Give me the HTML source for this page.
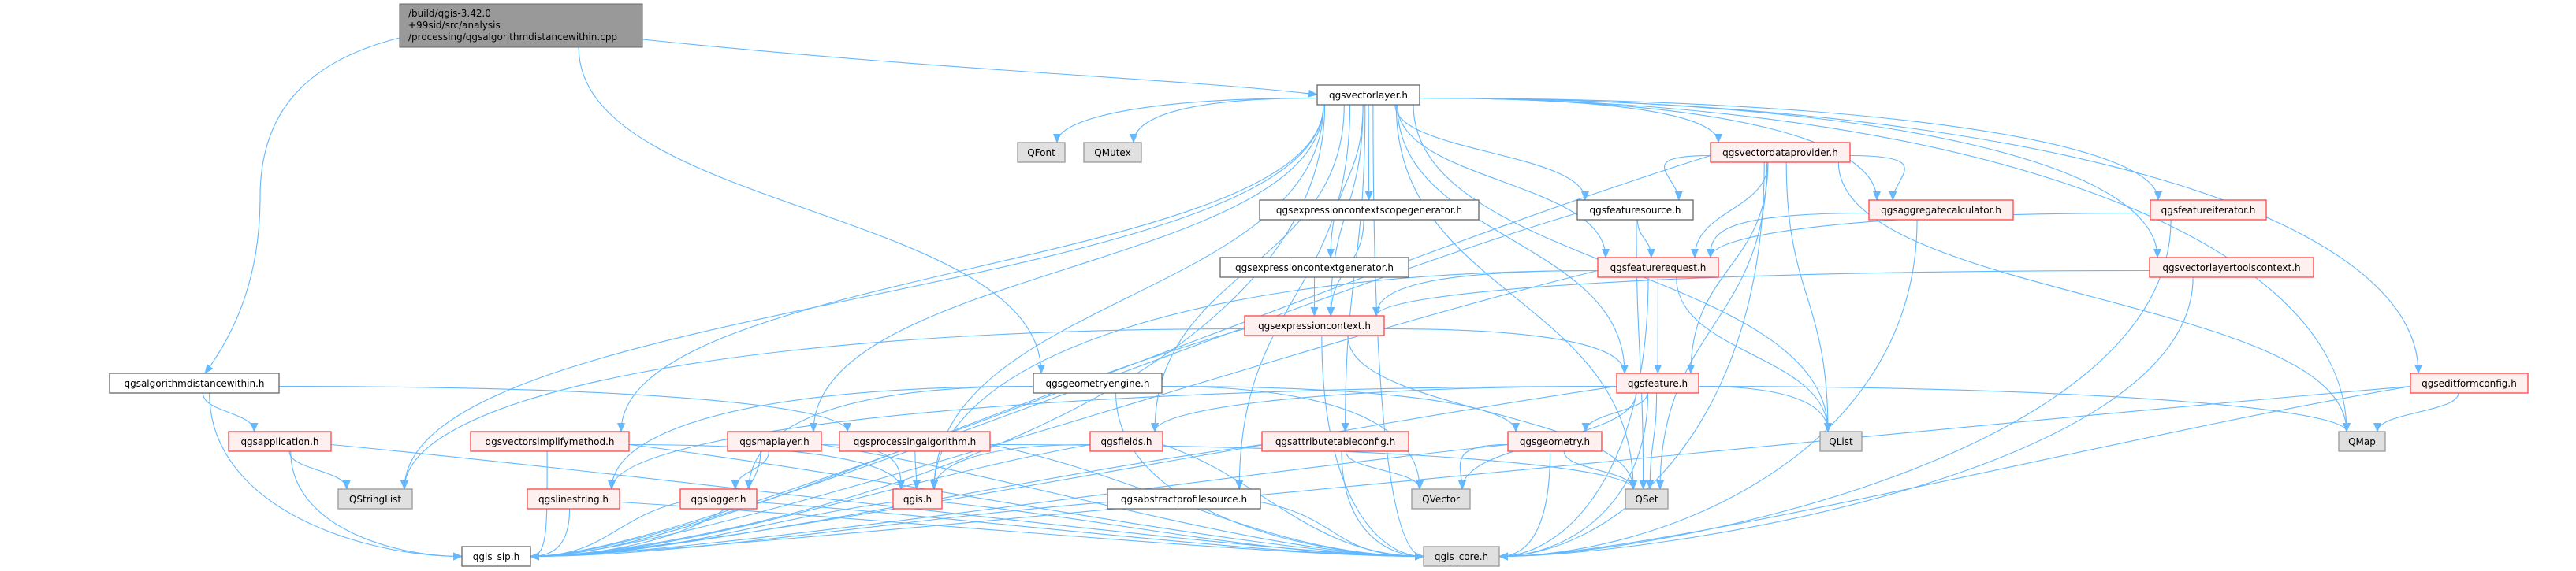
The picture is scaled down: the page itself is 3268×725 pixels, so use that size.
<!DOCTYPE html>
<html><head><meta charset="utf-8">
<style>
html,body{margin:0;padding:0;background:#fff;}
svg{display:block;}
text{font-family:"DejaVu Sans","Liberation Sans",sans-serif;font-size:12px;fill:#000;}
</style></head>
<body>
<svg id="g" width="3268" height="725" viewBox="0 0 3268 725" xmlns="http://www.w3.org/2000/svg">
<defs>
<marker id="a" markerWidth="12" markerHeight="10" refX="11" refY="5" orient="auto" markerUnits="userSpaceOnUse">
<path d="M0,0 L12,5 L0,10 z" fill="#63b8ff"/>
</marker>
</defs>
<g id="edges" fill="none" stroke="#63b8ff" stroke-width="1.1"></g>
<g id="nodes">
<rect x="507" y="5" width="308" height="55" fill="#999999" stroke="#666666"/>
<text x="518" y="21">/build/qgis-3.42.0</text>
<text x="518" y="36">+99sid/src/analysis</text>
<text x="518" y="51">/processing/qgsalgorithmdistancewithin.cpp</text>
</g>
</svg>
<script>
var R={v:108,a:181,b:254,c:327,d:401,e:474,f:548,g:621,h:694};
var N={
vl:[1671,1801,'v','qgsvectorlayer.h','w'],
QFont:[1291,1351,'a','QFont','q'],
QMutex:[1375,1448,'a','QMutex','q'],
vdp:[2170,2347,'a','qgsvectordataprovider.h','r'],
ecsg:[1598,1876,'b','qgsexpressioncontextscopegenerator.h','w'],
fs:[2001,2148,'b','qgsfeaturesource.h','w'],
agg:[2371,2554,'b','qgsaggregatecalculator.h','r'],
fit:[2728,2875,'b','qgsfeatureiterator.h','r'],
ecg:[1548,1787,'c','qgsexpressioncontextgenerator.h','w'],
freq:[2027,2180,'c','qgsfeaturerequest.h','r'],
vltc:[2727,2935,'c','qgsvectorlayertoolscontext.h','r'],
ec:[1579,1756,'d','qgsexpressioncontext.h','r'],
adw:[139,354,'e','qgsalgorithmdistancewithin.h','w'],
ge:[1311,1474,'e','qgsgeometryengine.h','w'],
feat:[2051,2155,'e','qgsfeature.h','r'],
efc:[3058,3207,'e','qgseditformconfig.h','r'],
app:[290,420,'f','qgsapplication.h','r'],
vsm:[597,798,'f','qgsvectorsimplifymethod.h','r'],
ml:[923,1042,'f','qgsmaplayer.h','r'],
pa:[1065,1256,'f','qgsprocessingalgorithm.h','r'],
flds:[1383,1475,'f','qgsfields.h','r'],
atc:[1601,1787,'f','qgsattributetableconfig.h','r'],
geom:[1913,2032,'f','qgsgeometry.h','r'],
QList:[2309,2362,'f','QList','q'],
QMap:[2967,3026,'f','QMap','q'],
QStringList:[429,523,'g','QStringList','q'],
ls:[669,786,'g','qgslinestring.h','r'],
log:[863,960,'g','qgslogger.h','r'],
qgis:[1133,1195,'g','qgis.h','r'],
aps:[1405,1599,'g','qgsabstractprofilesource.h','w'],
QVector:[1791,1865,'g','QVector','q'],
QSet:[2062,2116,'g','QSet','q'],
sip:[586,673,'h','qgis_sip.h','w'],
core:[1806,1902,'h','qgis_core.h','q']
};
var NS='http://www.w3.org/2000/svg';
var gn=document.getElementById('nodes'),ge=document.getElementById('edges');
var sty={w:['#ffffff','#666666'],r:['#fff0f0','#ff4444'],q:['#e0e0e0','#999999']};
for(var k in N){var n=N[k],y=R[n[2]];
var r=document.createElementNS(NS,'rect');
r.setAttribute('x',n[0]);r.setAttribute('y',y);r.setAttribute('width',n[1]-n[0]);r.setAttribute('height',25);
r.setAttribute('fill',sty[n[4]][0]);r.setAttribute('stroke',sty[n[4]][1]);r.setAttribute('stroke-width',1.3);
gn.appendChild(r);
var t=document.createElementNS(NS,'text');t.setAttribute('x',(n[0]+n[1])/2);t.setAttribute('y',y+17);
t.setAttribute('text-anchor','middle');t.textContent=n[3];gn.appendChild(t);}
function box(k){if(k=='root')return [507,815,5,60];var n=N[k];return [n[0],n[1],R[n[2]],R[n[2]]+25];}
var E=[
['root','adw'],['root','vl'],['root','ge'],
['adw','app'],['adw','sip'],['adw','pa'],
['app','QStringList'],['app','sip'],['app','core'],
['vl','QFont'],['vl','QMutex'],['vl','QStringList'],['vl','vsm'],['vl','ml'],['vl','sip'],['vl','core'],['vl','flds'],['vl','aps'],['vl','atc'],['vl','ec'],['vl','ecg'],['vl','ecsg'],['vl','fs'],['vl','freq'],['vl','feat'],['vl','vdp'],['vl','agg'],['vl','fit'],['vl','vltc'],['vl','efc'],['vl','QList'],['vl','QMap'],['vl','QSet'],['vl','qgis'],
['vdp','sip'],['vdp','fs'],['vdp','freq'],['vdp','agg'],['vdp','QList'],['vdp','QSet'],['vdp','QMap'],['vdp','core'],['vdp','feat'],
['fs','freq'],['fs','sip'],['fs','QSet'],
['agg','freq'],['agg','core'],['fit','freq'],['fit','core'],
['vltc','ec'],['vltc','core'],['ecsg','ec'],['ecg','ec'],
['freq','ec'],['freq','feat'],['freq','sip'],['freq','QList'],['freq','core'],['freq','qgis'],
['ec','feat'],['ec','sip'],['ec','QStringList'],['ec','QSet'],['ec','core'],
['feat','flds'],['feat','geom'],['feat','QList'],['feat','QMap'],['feat','QVector'],['feat','QSet'],['feat','core'],['feat','sip'],['feat','ls'],
['ge','ls'],['ge','geom'],['ge','QVector'],['ge','core'],['ge','log'],
['efc','QMap'],['efc','core'],['efc','sip'],
['geom','QVector'],['geom','QSet'],['geom','core'],['geom','sip'],
['flds','qgis'],['flds','core'],['flds','sip'],
['atc','QVector'],['atc','core'],['atc','sip'],
['aps','core'],['aps','sip'],['qgis','sip'],['qgis','core'],
['ml','log'],['ml','qgis'],['ml','sip'],['ml','core'],
['log','sip'],['log','core'],['ls','sip'],['ls','core'],
['vsm','sip'],['vsm','core'],['vsm','qgis'],
['pa','qgis'],['pa','core'],['pa','QSet']
];
E.forEach(function(e){
var s=box(e[0]),t=box(e[1]);
var scx=(s[0]+s[1])/2,tcx=(t[0]+t[1])/2,d;
var dxAbs=Math.abs(tcx-scx);
if(e[0]=='root'&&e[1]=='vl'){d='M815,50 C1200,90 1500,100 '+t[0]+',120';}
else if(e[0]=='root'&&e[1]=='adw'){d='M507,48 C380,80 330,150 330,250 C330,350 300,420 260,'+t[2];}
else if(e[1]=='sip'||e[1]=='core'){
 var left=scx<tcx, tx=left?t[0]:t[1], ty=t[2]+12.5;
 var sx,sy,c1x,c1y;
 if(dxAbs>3*(ty-s[3])){sx=left?s[1]:s[0];sy=(s[2]+s[3])/2+4;c1x=sx+(left?1:-1)*dxAbs*0.3;c1y=sy+(ty-sy)*0.3;}
 else{sx=Math.max(s[0]+8,Math.min(s[1]-8,scx+(tcx-scx)*0.05));sy=s[3];c1x=sx;c1y=sy+(ty-sy)*0.7;}
 d='M'+sx+','+sy+' C'+c1x+','+c1y+' '+(tx+(left?-200:200)*Math.min(1,dxAbs/600))+','+ty+' '+tx+','+ty;
} else {
 var tx=Math.max(t[0]+10,Math.min(t[1]-10,tcx+(scx-tcx)*0.3)), ty=t[2];
 var dy=ty-s[3];
 if(dy<5){ty=t[2]+12.5;tx=(scx<tcx)?t[0]:t[1];dy=30;
   var sx0=Math.max(s[0]+8,Math.min(s[1]-8,scx+(tcx-scx)*0.1));
   d='M'+sx0+','+s[3]+' C'+sx0+','+(s[3]+15)+' '+tx+','+(ty-15)+' '+tx+','+ty;}
 else if(dxAbs>3*dy){
   var dir=tcx>scx?1:-1, sx=dir>0?s[1]:s[0], sy=(s[2]+s[3])/2+4;
   d='M'+sx+','+sy+' C'+(sx+dir*dxAbs*0.55)+','+sy+' '+tx+','+(ty-dy*0.6)+' '+tx+','+ty;
 } else {
   var sx=Math.max(s[0]+8,Math.min(s[1]-8,scx+(tcx-scx)*0.1)), sy=s[3];
   d='M'+sx+','+sy+' C'+sx+','+(sy+dy*0.5)+' '+tx+','+(ty-dy*0.5)+' '+tx+','+ty;
 }
}
var p=document.createElementNS(NS,'path');p.setAttribute('d',d);p.setAttribute('marker-end','url(#a)');ge.appendChild(p);
});
</script>
</body></html>
